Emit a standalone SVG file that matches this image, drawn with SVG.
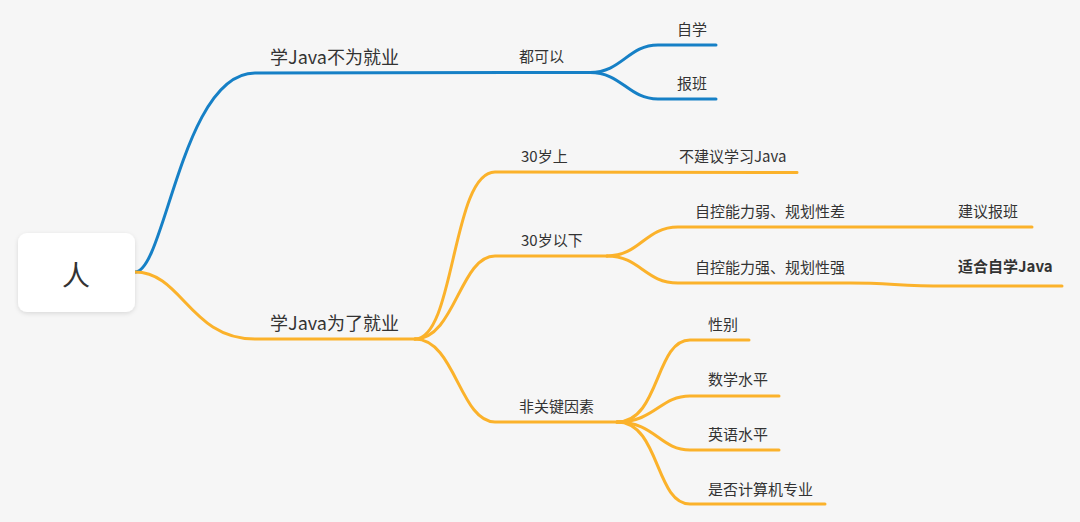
<svg xmlns="http://www.w3.org/2000/svg" width="1080" height="522" viewBox="0 0 1080 522">
  <defs>
    <filter id="shadow" x="-20%" y="-20%" width="140%" height="150%">
      <feDropShadow dx="0" dy="1.5" stdDeviation="2" flood-color="#000" flood-opacity="0.12"/>
    </filter>
  </defs>
  <style>
    text { font-family: "Noto Sans CJK SC", "Noto Sans", "Liberation Sans", sans-serif; fill: #333333; }
    .t15 { font-size: 15px; }
    .t18 { font-size: 18px; }
    .root { font-size: 28px; }
    .bold { font-weight: bold; }
    .blue { fill: none; stroke: #1680c6; stroke-width: 3; stroke-linecap: round; }
    .yel { fill: none; stroke: #fbb22b; stroke-width: 3; stroke-linecap: round; }
  </style>
  <rect width="1080" height="522" fill="#f6f6f6"/>

  <g id="connectors">
    <!-- blue branch -->
    <path class="blue" d="M135,272 C165,272 182,73 255,73 L590,72.5"/>
    <path class="blue" d="M590,72.5 C622,72.5 628,45 658,45 L716,45"/>
    <path class="blue" d="M590,72.5 C622,72.5 628,99 658,99 L716,99"/>
    <!-- yellow branch -->
    <path class="yel" d="M135,272 C182,272 190,339 255,339 L415,339"/>
    <path class="yel" d="M415,339 C455,339 452,172 495,172 L797,172.5"/>
    <path class="yel" d="M415,339 C455,339 460,256 495,256 L607,256"/>
    <path class="yel" d="M415,339 C455,339 460,422 495,422 L617,422"/>
    <!-- 30岁以下 children -->
    <path class="yel" d="M607,256 C640,256 645,227 678,227 L1032,227"/>
    <path class="yel" d="M607,256 C640,256 645,283 678,283 L850,283 C890,283 900,286 945,286 L1062,286"/>
    <!-- 非关键因素 children -->
    <path class="yel" d="M617,422 C660,422 655,340 690,340 L749,340"/>
    <path class="yel" d="M617,422 C655,422 660,396 690,396 L779,396"/>
    <path class="yel" d="M617,422 C655,422 660,450 690,450 L779,450"/>
    <path class="yel" d="M617,422 C660,422 655,504 690,504 L825,504"/>
  </g>

  <g id="root">
    <rect x="18" y="233" width="117" height="79" rx="9" ry="9" fill="#ffffff" filter="url(#shadow)"/>
    <text class="root" x="76" y="286" text-anchor="middle">人</text>
  </g>

  <g id="n-not-job">
    <text class="t18" x="270" y="64">学Java不为就业</text>
  </g>
  <g id="n-both-ok">
    <text class="t15" x="519" y="62">都可以</text>
  </g>
  <g id="n-self-study">
    <text class="t15" x="677" y="35">自学</text>
  </g>
  <g id="n-class">
    <text class="t15" x="677" y="89">报班</text>
  </g>

  <g id="n-job">
    <text class="t18" x="270" y="330">学Java为了就业</text>
  </g>
  <g id="n-over30">
    <text class="t15" x="521" y="162">30岁上</text>
  </g>
  <g id="n-not-recommend">
    <text class="t15" x="679" y="162">不建议学习Java</text>
  </g>
  <g id="n-under30">
    <text class="t15" x="521" y="246">30岁以下</text>
  </g>
  <g id="n-weak">
    <text class="t15" x="695" y="217">自控能力弱、规划性差</text>
  </g>
  <g id="n-suggest-class">
    <text class="t15" x="958" y="217">建议报班</text>
  </g>
  <g id="n-strong">
    <text class="t15" x="695" y="273">自控能力强、规划性强</text>
  </g>
  <g id="n-suit-self">
    <text class="t15 bold" x="958" y="272">适合自学Java</text>
  </g>
  <g id="n-nonkey">
    <text class="t15" x="519" y="412">非关键因素</text>
  </g>
  <g id="n-gender">
    <text class="t15" x="708" y="330">性别</text>
  </g>
  <g id="n-math">
    <text class="t15" x="708" y="385">数学水平</text>
  </g>
  <g id="n-english">
    <text class="t15" x="708" y="440">英语水平</text>
  </g>
  <g id="n-cs-major">
    <text class="t15" x="708" y="495">是否计算机专业</text>
  </g>
</svg>
